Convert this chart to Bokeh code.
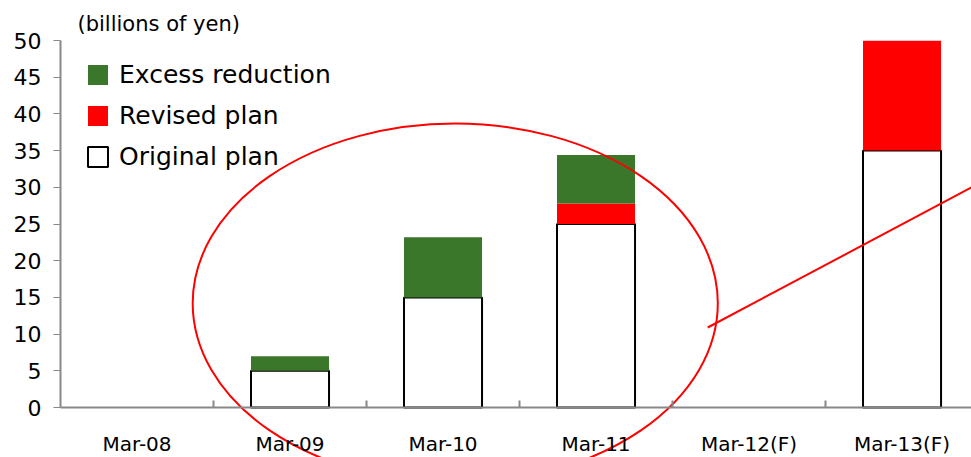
import numpy as np
from bokeh.plotting import figure
from bokeh.models import (ColumnDataSource, FixedTicker, Legend, LegendItem,
                          Range1d, Title)
from bokeh.embed import file_html
from bokeh.resources import INLINE

# ---- data ----
categories = ["Mar-08", "Mar-09", "Mar-10", "Mar-11", "Mar-12(F)", "Mar-13(F)"]
original_plan = [0, 5, 15, 25, 0, 35]
revised_plan = [0, 0, 0, 2.8, 0, 15]
excess_reduction = [0, 2, 8.2, 6.6, 0, 0]
y_ticks = [0, 5, 10, 15, 20, 25, 30, 35, 40, 45, 50]

x = list(range(len(categories)))
orig = np.array(original_plan, dtype=float)
rev = np.array(revised_plan, dtype=float)
exc = np.array(excess_reduction, dtype=float)

src = ColumnDataSource(dict(
    x=x,
    o_bot=np.zeros(len(x)), o_top=orig,
    r_bot=orig, r_top=orig + rev,
    e_bot=orig + rev, e_top=orig + rev + exc,
    o_line=["black" if v > 0 else None for v in orig],
    o_fill=["white" if v > 0 else None for v in orig],
))

GREEN = "#3b772a"
RED = "#ff0000"
FONT = "DejaVu Sans"

p = figure(width=971, height=457, output_backend="svg", toolbar_location=None,
           x_range=Range1d(-0.5, 5.454), y_range=Range1d(-6.81, 50),
           min_border_left=60, min_border_right=0, min_border_top=40,
           min_border_bottom=0, outline_line_color=None,
           background_fill_color="white", border_fill_color="white")

p.title = Title(text="(billions of yen)", align="left", offset=17,
                text_font=FONT, text_font_size="21px", text_color="black",
                text_font_style="normal", standoff=9)

w = 0.51
r_o = p.vbar(x="x", bottom="o_bot", top="o_top", width=w, source=src,
             fill_color="o_fill", line_color="o_line", line_width=2)
r_r = p.vbar(x="x", bottom="r_bot", top="r_top", width=w, source=src,
             fill_color=RED, line_color=None)
r_e = p.vbar(x="x", bottom="e_bot", top="e_top", width=w, source=src,
             fill_color=GREEN, line_color=None)

# annotations: ellipse and line
p.ellipse(x=[2.08], y=[14.2], width=[2 * 1.716], height=[2 * 24.5],
          fill_color=None, line_color=RED, line_width=2)
p.line(x=[3.73, 5.6], y=[10.9, 31.6], line_color=RED, line_width=2)

# grids
p.xgrid.visible = False
p.ygrid.visible = False

# axes
ya = p.yaxis[0]
ya.ticker = FixedTicker(ticks=y_ticks)
ya.bounds = (0, 50)
ya.axis_line_color = "#888888"
ya.axis_line_width = 2
ya.major_tick_line_color = "#888888"
ya.major_tick_out = 7
ya.major_tick_in = 0
ya.minor_tick_line_color = None
ya.major_label_text_font = FONT
ya.major_label_text_font_size = "22px"
ya.major_label_text_color = "black"
ya.major_label_standoff = 12

xa = p.xaxis[0]
xa.fixed_location = 0
xa.ticker = FixedTicker(ticks=x, minor_ticks=[0.5, 1.5, 2.5, 3.5, 4.5])
xa.major_label_overrides = {i: c for i, c in enumerate(categories)}
xa.axis_line_color = "#888888"
xa.axis_line_width = 2
xa.major_tick_line_color = None
xa.major_tick_in = 0
xa.major_tick_out = 0
xa.minor_tick_line_color = "#888888"
xa.minor_tick_line_width = 2
xa.minor_tick_in = 7
xa.minor_tick_out = 0
xa.major_label_text_font = FONT
xa.major_label_text_font_size = "20px"
xa.major_label_text_color = "black"
xa.major_label_standoff = 24

legend = Legend(items=[
    LegendItem(label="Excess reduction", renderers=[r_e]),
    LegendItem(label="Revised plan", renderers=[r_r]),
    LegendItem(label="Original plan", renderers=[r_o], index=1),
], location=(25, 286), margin=0, padding=0, spacing=12,
    glyph_width=25, glyph_height=25, label_height=25, label_standoff=9,
    label_text_font=FONT, label_text_font_size="25px", label_text_color="black",
    border_line_color=None, background_fill_alpha=0)
p.add_layout(legend)

open("out.html", "w").write(file_html(p, INLINE))
